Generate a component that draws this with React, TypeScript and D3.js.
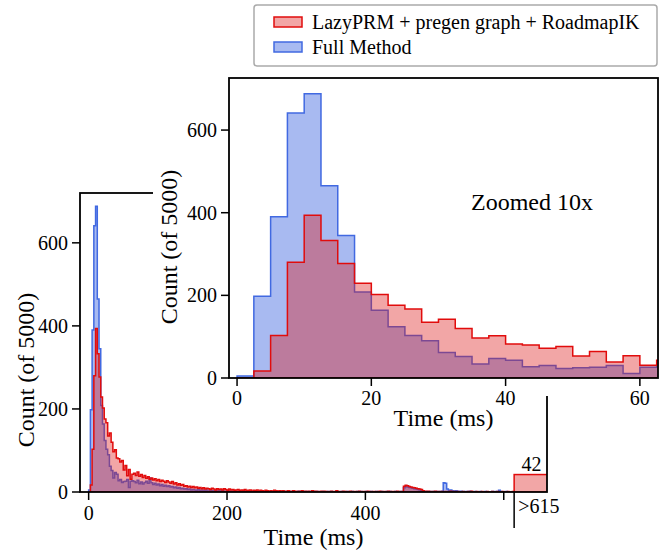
import React from "react";
import * as d3 from "d3";

// ---------- data (2.5 ms bins starting at 0 ms, up to 615 ms) ----------
const binWidth = 2.5;
const seriesNames = ["LazyPRM + pregen graph + RoadmapIK", "Full Method"];

const lazyCounts = [
  0, 17, 103, 280, 394, 333, 277, 229, 202, 176, 167, 135, 142, 120, 97, 102, 82, 80, 72, 76, 53, 64, 39, 54, 31, 43,
  45, 40, 48, 38, 42, 35, 40, 33, 37, 31,
  34, 29, 32, 27, 30, 25, 28, 26, 23, 27,
  24, 21, 25, 19, 22, 17, 20, 16, 18, 14,
  15, 12, 14, 11, 13, 10, 12, 9, 11, 8,
  10, 7, 9, 8, 6, 9, 7, 5, 8, 6,
  7, 5, 8, 6, 4, 7, 5, 6, 4, 5,
  6, 3, 5, 4, 6, 3, 4, 5, 2, 4,
  3, 5, 2, 4, 3, 2, 4, 3, 1, 3,
  2, 4, 3, 1, 3, 2, 3, 1, 2, 3,
  2, 1, 3, 2, 0, 2, 1, 3, 1, 2,
  1, 2, 0, 3, 1, 2, 1, 0, 2, 1,
  2, 1, 0, 1, 2, 0, 1, 3, 1, 0,
  1, 2, 1, 0, 1, 2, 0, 1, 1, 0,
  2, 0, 1, 1, 0, 2, 1, 0, 1, 1,
  0, 1, 2, 0, 1, 0, 1, 2, 0, 1,
  1, 0, 2, 1, 0, 1, 14, 16, 15, 13,
  12, 11, 10, 9, 8, 7, 6, 3, 1, 2,
  2, 1, 0, 1, 2, 1, 1, 0, 1, 0,
  1, 0, 1, 2, 0, 1, 0, 1, 0, 0,
  1, 0, 0, 1, 0, 2, 0, 0, 1, 0,
  0, 1, 0, 0, 1, 0, 0, 1, 0, 0,
  1, 0, 0, 1, 0, 0, 1, 0, 0, 1,
];

const fullCounts = [
  5, 198, 390, 641, 688, 465, 345, 208, 164, 124, 103, 90, 62, 52, 34, 47, 43, 27, 30, 23, 25, 26, 30, 11, 26, 27,
  25, 22, 28, 20, 24, 19, 23, 26, 21, 34,
  22, 18, 21, 17, 19, 15, 18, 14, 16, 13,
  15, 12, 13, 10, 12, 9, 11, 8, 9, 7,
  8, 6, 7, 5, 6, 5, 4, 6, 3, 5,
  4, 3, 5, 2, 4, 3, 2, 3, 1, 3,
  2, 3, 1, 2, 3, 1, 2, 1, 2, 1,
  1, 2, 0, 1, 2, 1, 0, 1, 1, 0,
  1, 0, 1, 2, 0, 1, 0, 1, 0, 1,
  0, 1, 0, 1, 1, 0, 2, 0, 1, 0,
  1, 0, 1, 0, 0, 2, 0, 1, 0, 1,
  0, 1, 0, 0, 1, 0, 1, 0, 0, 1,
  0, 0, 1, 0, 1, 0, 0, 2, 0, 0,
  1, 0, 0, 1, 0, 0, 1, 0, 0, 1,
  0, 1, 0, 0, 1, 0, 0, 1, 0, 0,
  1, 0, 0, 1, 0, 0, 1, 0, 1, 0,
  0, 1, 0, 0, 1, 0, 10, 14, 12, 11,
  10, 9, 8, 7, 6, 5, 4, 2, 1, 1,
  0, 1, 0, 1, 0, 1, 0, 1, 2, 22,
  21, 7, 4, 5, 3, 2, 3, 2, 1, 2,
  0, 1, 1, 0, 2, 0, 0, 1, 0, 0,
  1, 0, 0, 1, 0, 0, 0, 1, 0, 1,
  0, 4, 1, 0, 0, 1, 0, 0, 0, 0,
];

const overflowStart = 615;
const overflowEnd = 665;
const overflowCount = 42;
const overflowLabel = ">615";

const mainXTicks = [0, 200, 400];
const mainXMinorTick = [600];
const mainYTicks = [0, 200, 400, 600];
const insetXTicks = [0, 20, 40, 60];
const insetYTicks = [0, 200, 400, 600];

// ---------- style ----------
const FONT = '"Liberation Serif"';
const redLine = "rgb(225,12,12)";
const redFill = "rgba(222,20,20,0.38)";
const blueLine = "rgb(65,105,225)";
const blueFill = "rgba(65,105,225,0.46)";
const ts = { fontFamily: FONT };

function stepPath(counts: number[], x: (v: number) => number, y: (v: number) => number) {
  const pts: [number, number][] = [[x(0), y(0)]];
  counts.forEach((c, i) => {
    pts.push([x(i * binWidth), y(c)]);
    pts.push([x((i + 1) * binWidth), y(c)]);
  });
  pts.push([x(counts.length * binWidth), y(0)]);
  return (d3.line()(pts) || "") + "Z";
}

export default function App() {
  // main axes
  const M = { l: 80, r: 547, t: 193, b: 492 };
  const mx = d3.scaleLinear().domain([-12.5, 662.5]).range([M.l, M.r]);
  const my = d3.scaleLinear().domain([0, 720]).range([M.b, M.t]);
  // inset axes
  const I = { l: 229, r: 658, t: 78, b: 378 };
  const ix = d3.scaleLinear().domain([-1.2, 62.7]).range([I.l, I.r]);
  const iy = d3.scaleLinear().domain([0, 726]).range([I.b, I.t]);

  const mxf = (v: number) => mx(v);
  const myf = (v: number) => my(v);
  const ixf = (v: number) => ix(v);
  const iyf = (v: number) => iy(v);

  const tickFs = 20;
  const labelFs = 24;

  return (
    <svg width={665} height={551} style={{ position: "absolute", left: 0, top: 0, background: "#fff" }}>
      <defs>
        <clipPath id="mainClip">
          <rect x={M.l} y={M.t} width={M.r - M.l} height={M.b - M.t} />
        </clipPath>
        <clipPath id="insetClip">
          <rect x={I.l} y={I.t} width={I.r - I.l} height={I.b - I.t} />
        </clipPath>
      </defs>
      <rect x={0} y={0} width={665} height={551} fill="#fff" />

      {/* ---------- main axes ---------- */}
      <g clipPath="url(#mainClip)">
        <path d={stepPath(fullCounts, mxf, myf)} fill={blueFill} stroke={blueLine} strokeWidth={1.5} />
        <path d={stepPath(lazyCounts, mxf, myf)} fill={redFill} stroke={redLine} strokeWidth={1.5} />
        <rect
          x={mx(overflowStart)}
          y={my(overflowCount)}
          width={mx(overflowEnd) - mx(overflowStart)}
          height={my(0) - my(overflowCount)}
          fill={redFill}
          stroke={redLine}
          strokeWidth={1.5}
        />
      </g>
      <text style={ts} x={(mx(overflowStart) + mx(overflowEnd)) / 2} y={my(overflowCount) - 4} textAnchor="middle" fontSize={tickFs}>
        {overflowCount}
      </text>
      {/* spines */}
      <rect x={M.l} y={M.t} width={M.r - M.l} height={M.b - M.t} fill="none" stroke="#000" strokeWidth={1.8} />
      {/* y ticks */}
      {mainYTicks.map((t) => (
        <g key={"my" + t}>
          <line x1={M.l - 8} x2={M.l} y1={my(t)} y2={my(t)} stroke="#000" strokeWidth={1.5} />
          <text style={ts} x={M.l - 12} y={my(t)} dy="0.34em" textAnchor="end" fontSize={tickFs}>
            {t}
          </text>
        </g>
      ))}
      {/* x ticks */}
      {mainXTicks.map((t) => (
        <g key={"mx" + t}>
          <line x1={mx(t)} x2={mx(t)} y1={M.b} y2={M.b + 8} stroke="#000" strokeWidth={1.5} />
          <text style={ts} x={mx(t)} y={M.b + 28} textAnchor="middle" fontSize={tickFs}>
            {t}
          </text>
        </g>
      ))}
      {mainXMinorTick.map((t) => (
        <line key={"mxm" + t} x1={mx(t)} x2={mx(t)} y1={M.b} y2={M.b + 8} stroke="#000" strokeWidth={1.5} />
      ))}
      <line x1={mx(overflowStart)} x2={mx(overflowStart)} y1={M.b} y2={M.b + 36} stroke="#000" strokeWidth={1.5} />
      <text style={ts} x={mx(overflowStart) + 4} y={M.b + 21} textAnchor="start" fontSize={tickFs}>
        {overflowLabel}
      </text>
      <text style={ts} x={(M.l + M.r) / 2} y={545} textAnchor="middle" fontSize={labelFs}>
        Time (ms)
      </text>
      <text
        style={ts}
        transform={`translate(26,370) rotate(-90)`}
        textAnchor="middle"
        dominantBaseline="central"
        fontSize={labelFs}
      >
        Count (of 5000)
      </text>

      {/* white backing for inset */}
      <rect x={153} y={70} width={512} height={326} fill="#fff" />

      {/* ---------- inset axes ---------- */}
      <rect x={I.l} y={I.t} width={I.r - I.l} height={I.b - I.t} fill="#fff" />
      <g clipPath="url(#insetClip)">
        <path d={stepPath(fullCounts, ixf, iyf)} fill={blueFill} stroke={blueLine} strokeWidth={1.5} />
        <path d={stepPath(lazyCounts, ixf, iyf)} fill={redFill} stroke={redLine} strokeWidth={1.5} />
      </g>
      <rect x={I.l} y={I.t} width={I.r - I.l} height={I.b - I.t} fill="none" stroke="#000" strokeWidth={1.8} />
      {insetYTicks.map((t) => (
        <g key={"iy" + t}>
          <line x1={I.l - 8} x2={I.l} y1={iy(t)} y2={iy(t)} stroke="#000" strokeWidth={1.5} />
          <text style={ts} x={I.l - 12} y={iy(t)} dy="0.34em" textAnchor="end" fontSize={tickFs}>
            {t}
          </text>
        </g>
      ))}
      {insetXTicks.map((t) => (
        <g key={"ix" + t}>
          <line x1={ix(t)} x2={ix(t)} y1={I.b} y2={I.b + 8} stroke="#000" strokeWidth={1.5} />
          <text style={ts} x={ix(t)} y={I.b + 27} textAnchor="middle" fontSize={tickFs}>
            {t}
          </text>
        </g>
      ))}
      <text style={ts} x={(I.l + I.r) / 2} y={426} textAnchor="middle" fontSize={labelFs}>
        Time (ms)
      </text>
      <text
        style={ts}
        transform={`translate(169,247) rotate(-90)`}
        textAnchor="middle"
        dominantBaseline="central"
        fontSize={labelFs}
      >
        Count (of 5000)
      </text>
      <text style={ts} x={532} y={210} textAnchor="middle" fontSize={labelFs}>
        Zoomed 10x
      </text>

      {/* ---------- legend ---------- */}
      <rect x={254} y={5} width={403} height={61} rx={3} fill="#fff" stroke="#aaa" strokeWidth={1.5} />
      <rect x={274} y={17} width={28} height={10} fill={redFill} stroke={redLine} strokeWidth={1.5} />
      <rect x={274} y={42} width={28} height={10} fill={blueFill} stroke={blueLine} strokeWidth={1.5} />
      <text style={ts} x={312} y={29} fontSize={20}>
        {seriesNames[0]}
      </text>
      <text style={ts} x={312} y={54} fontSize={20}>
        {seriesNames[1]}
      </text>
    </svg>
  );
}
